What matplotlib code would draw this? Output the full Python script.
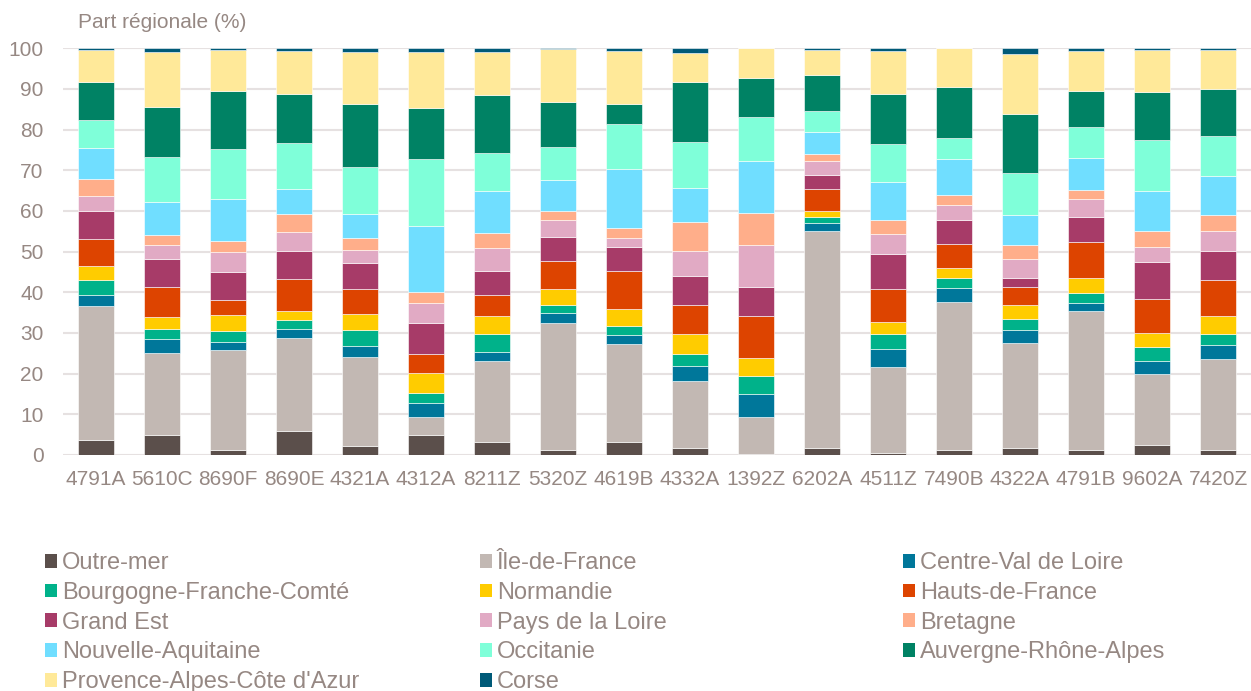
import numpy as np
import matplotlib
matplotlib.use("Agg")
import matplotlib.pyplot as plt
from matplotlib.patches import Patch

# codes NAF en abscisse
codes = ["4791A", "5610C", "8690F", "8690E", "4321A", "4312A", "8211Z", "5320Z", "4619B",
         "4332A", "1392Z", "6202A", "4511Z", "7490B", "4322A", "4791B", "9602A", "7420Z"]

# part de chaque region (%) par code
outre_mer = [3.7, 4.9, 1.2, 5.9, 2.3, 4.8, 3.1, 1.3, 3.3, 1.8, 0.2, 1.7, 0.6, 1.3, 1.6, 1.3, 2.5, 1.2]
ile_de_france = [33.0, 20.3, 24.5, 22.8, 21.9, 4.6, 19.9, 31.2, 23.9, 16.3, 9.1, 53.5, 21.0, 36.4, 25.9, 34.0, 17.5, 22.4]
centre_val_de_loire = [2.6, 3.2, 2.2, 2.4, 2.7, 3.3, 2.4, 2.3, 2.4, 3.9, 5.6, 1.9, 4.5, 3.4, 3.3, 2.0, 3.2, 3.4]
bourgogne_fc = [3.7, 2.5, 2.6, 2.1, 3.8, 2.6, 4.3, 2.2, 2.2, 2.9, 4.6, 1.5, 3.7, 2.5, 2.6, 2.5, 3.3, 2.8]
normandie = [3.5, 3.1, 3.9, 2.2, 3.9, 4.9, 4.5, 3.9, 4.0, 4.9, 4.4, 1.4, 3.0, 2.5, 3.6, 3.6, 3.4, 4.5]
hauts_de_france = [6.6, 7.4, 3.7, 7.8, 6.1, 4.6, 5.1, 6.7, 9.4, 7.0, 10.2, 5.4, 7.9, 5.9, 4.2, 8.9, 8.4, 8.7]
grand_est = [6.9, 6.9, 6.8, 7.0, 6.5, 7.7, 5.9, 6.1, 6.0, 7.3, 7.2, 3.5, 8.6, 5.7, 2.2, 6.3, 9.1, 7.1]
pays_de_la_loire = [3.6, 3.4, 4.9, 4.7, 3.3, 4.8, 5.6, 4.0, 2.2, 6.0, 10.3, 3.3, 5.1, 3.8, 4.8, 4.3, 3.7, 5.1]
bretagne = [4.3, 2.3, 2.8, 4.3, 2.9, 2.9, 3.9, 2.2, 2.5, 7.1, 7.8, 1.9, 3.5, 2.4, 3.4, 2.3, 4.0, 3.8]
nouvelle_aquitaine = [7.7, 8.2, 10.4, 6.3, 5.8, 16.2, 10.3, 7.8, 14.5, 8.5, 13.0, 5.2, 9.3, 8.8, 7.3, 7.8, 9.7, 9.7]
occitanie = [6.8, 11.0, 12.2, 11.3, 11.7, 16.3, 9.3, 8.0, 10.9, 11.3, 10.6, 5.2, 9.2, 5.3, 10.5, 7.7, 12.7, 9.8]
auvergne_ra = [9.3, 12.3, 14.3, 12.0, 15.3, 12.7, 14.1, 11.0, 5.0, 14.8, 9.6, 8.9, 12.3, 12.4, 14.5, 8.7, 11.8, 11.4]
paca = [8.0, 13.5, 10.1, 10.6, 12.8, 13.8, 10.8, 13.1, 13.0, 7.1, 7.4, 6.3, 10.6, 9.6, 14.8, 10.0, 10.3, 9.7]
corse = [0.3, 1.0, 0.4, 0.6, 1.0, 0.8, 0.8, 0.2, 0.7, 1.1, 0.0, 0.3, 0.7, 0.0, 1.3, 0.6, 0.4, 0.4]

regions = ["Outre-mer", "Île-de-France", "Centre-Val de Loire", "Bourgogne-Franche-Comté",
           "Normandie", "Hauts-de-France", "Grand Est", "Pays de la Loire", "Bretagne",
           "Nouvelle-Aquitaine", "Occitanie", "Auvergne-Rhône-Alpes",
           "Provence-Alpes-Côte d'Azur", "Corse"]
series = [outre_mer, ile_de_france, centre_val_de_loire, bourgogne_fc, normandie, hauts_de_france,
          grand_est, pays_de_la_loire, bretagne, nouvelle_aquitaine, occitanie, auvergne_ra, paca, corse]
colors = ["#5b4f4b", "#c2b8b3", "#00779a", "#00b28a", "#ffcc00", "#dd4400", "#a73b68",
          "#e1aac4", "#ffae8a", "#70deff", "#7fffd9", "#008264", "#ffe999", "#005a78"]

txt = "#968883"
grid = "#e6e1e1"
plt.rcParams["font.family"] = ["Liberation Sans", "DejaVu Sans"]

fig = plt.figure(figsize=(12.51, 6.91), dpi=100)
ax = fig.add_axes([63 / 1251, 1 - 455 / 691, 1 - 63 / 1251, (455 - 48.3) / 691])

x = np.arange(len(codes))
bottom = np.zeros(len(codes))
for vals, col in zip(series, colors):
    v = np.array(vals)
    ax.bar(x, v, bottom=bottom, width=0.56, color=col, edgecolor="white", linewidth=0.4, zorder=3)
    bottom += v

ax.set_xlim(-0.5, len(codes) - 0.5)
ax.set_ylim(0, 100)
ax.set_yticks(range(0, 101, 10))
ax.set_xticks(x)
ax.set_xticklabels(codes)
ax.grid(axis="y", color=grid, linewidth=1.5, zorder=0)
ax.set_axisbelow(True)
for s in ax.spines.values():
    s.set_visible(False)
ax.tick_params(axis="both", length=0, labelsize=15, labelcolor=txt)
ax.tick_params(axis="y", pad=14)
ax.tick_params(axis="x", pad=11)

fig.text(78 / 1251, 1 - 22 / 691, "Part régionale (%)", fontsize=15, color=txt, va="center")

# legende en 3 colonnes, remplie ligne par ligne
handles = [Patch(facecolor=c, edgecolor="none") for c in colors]
col_x = [45 / 1251, 480 / 1251, 903 / 1251]
for k in range(3):
    idx = list(range(k, len(regions), 3))
    leg = fig.legend([handles[i] for i in idx], [regions[i] for i in idx],
                     loc="upper left", bbox_to_anchor=(col_x[k], 1 - 552 / 691),
                     frameon=False, fontsize=17, borderpad=0, borderaxespad=0,
                     handlelength=0.52, handleheight=0.52, handletextpad=0.2,
                     labelspacing=0.33)
    for t in leg.get_texts():
        t.set_color(txt)

fig.savefig("out.png", dpi=100)
